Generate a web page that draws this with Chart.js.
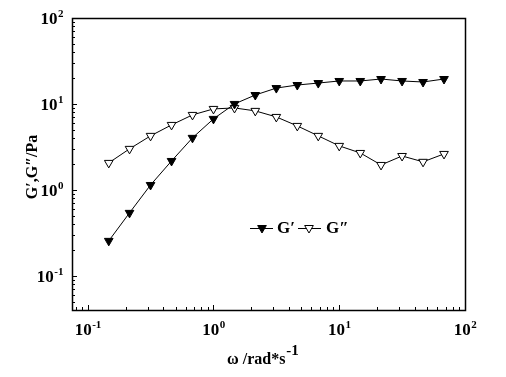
<!DOCTYPE html>
<html>
<head>
<meta charset="utf-8">
<script src="https://cdn.jsdelivr.net/npm/chart.js@4/dist/chart.umd.min.js"></script>
<style>
  html, body { margin: 0; padding: 0; background: #fff; }
  #wrap { width: 506px; height: 377px; }
</style>
</head>
<body>
<div id="wrap"><canvas id="chart" width="506" height="377"></canvas></div>
<script>
/* frequency sweep data */
var omega   = [0.147, 0.215, 0.316, 0.464, 0.681, 1.0, 1.47, 2.15, 3.16, 4.64, 6.81, 10.0, 14.7, 21.5, 31.6, 46.4, 68.1];
var gPrime  = [0.255, 0.54, 1.14, 2.17, 4.03, 6.7, 10.0, 12.7, 15.3, 16.6, 17.5, 18.5, 18.5, 19.5, 18.5, 18.0, 19.5];
var gDouble = [2.06, 3.0, 4.25, 5.7, 7.45, 8.75, 8.98, 8.3, 7.06, 5.55, 4.25, 3.25, 2.69, 1.95, 2.48, 2.12, 2.62];

var xDecades = [-1, 0, 1, 2];
var yDecades = [-1, 0, 1, 2];
var seriesNames = ['G\u2032', 'G\u2033'];

var SERIF = '"Liberation Serif", "Times New Roman", serif';

function pts(ys) {
  return omega.map(function(w, i) { return { x: w, y: ys[i] }; });
}

/* 10 with superscript exponent; align: 'center' or 'right' */
function drawPow(ctx, exp, x, y, align) {
  var base = '10', sup = String(exp);
  ctx.font = 'bold 17px ' + SERIF;
  var wb = ctx.measureText(base).width;
  ctx.font = 'bold 11px ' + SERIF;
  var ws = ctx.measureText(sup).width;
  var x0 = align === 'right' ? x - wb - ws : x - (wb + ws) / 2;
  ctx.textAlign = 'left';
  ctx.textBaseline = 'alphabetic';
  ctx.font = 'bold 17px ' + SERIF;
  ctx.fillText(base, x0, y);
  ctx.font = 'bold 11px ' + SERIF;
  ctx.fillText(sup, x0 + wb + 0.5, y - 7);
}

function tri(ctx, x, y, r, filled) {
  ctx.beginPath();
  ctx.moveTo(x, y + r);
  ctx.lineTo(x - r * 0.866, y - r / 2);
  ctx.lineTo(x + r * 0.866, y - r / 2);
  ctx.closePath();
  ctx.fillStyle = filled ? '#000' : '#fff';
  ctx.fill();
  ctx.strokeStyle = '#000';
  ctx.lineWidth = 1;
  ctx.stroke();
}

function logTicks(scale) {
  var out = [];
  var lo = Math.floor(Math.log10(scale.min)), hi = Math.ceil(Math.log10(scale.max));
  for (var e = lo; e <= hi; e++) {
    for (var m = 1; m <= 9; m++) {
      var v = m * Math.pow(10, e);
      if (v >= scale.min * 0.999 && v <= scale.max * 1.001) out.push({ v: v, major: m === 1 });
    }
  }
  return out;
}

var decor = {
  id: 'decor',
  afterDraw: function(chart) {
    var ctx = chart.ctx, a = chart.chartArea;
    var xs = chart.scales.x, ys = chart.scales.y;
    ctx.save();

    // frame
    ctx.strokeStyle = '#000';
    ctx.lineWidth = 1.5;
    ctx.strokeRect(Math.round(a.left) + 0.5, Math.round(a.top) + 0.5,
                   Math.round(a.right - a.left), Math.round(a.bottom - a.top));

    // inward ticks, bottom and left
    ctx.lineWidth = 1;
    ctx.beginPath();
    logTicks(xs).forEach(function(t) {
      var px = Math.round(xs.getPixelForValue(t.v)) + 0.5;
      ctx.moveTo(px, a.bottom);
      ctx.lineTo(px, a.bottom - (t.major ? 5 : 3));
    });
    logTicks(ys).forEach(function(t) {
      var py = Math.round(ys.getPixelForValue(t.v)) + 0.5;
      ctx.moveTo(a.left, py);
      ctx.lineTo(a.left + (t.major ? 5 : 3), py);
    });
    ctx.stroke();

    // tick labels
    ctx.fillStyle = '#000';
    xDecades.forEach(function(e) {
      drawPow(ctx, e, xs.getPixelForValue(Math.pow(10, e)), a.bottom + 25, 'center');
    });
    yDecades.forEach(function(e) {
      drawPow(ctx, e, a.left - 9, ys.getPixelForValue(Math.pow(10, e)) + 6, 'right');
    });

    // x title
    ctx.font = 'bold 16px ' + SERIF;
    ctx.textAlign = 'left';
    var xt = '\u03c9 /rad*s';
    ctx.fillText(xt, 227, 364);
    var wx = ctx.measureText(xt).width;
    ctx.font = 'bold 15px ' + SERIF;
    ctx.fillText('-1', 227 + wx + 1, 355);

    // y title
    ctx.save();
    ctx.translate(37, 167);
    ctx.rotate(-Math.PI / 2);
    ctx.font = 'bold 16px ' + SERIF;
    ctx.textAlign = 'center';
    ctx.fillText('G\u2032,G\u2033/Pa', 0, 0);
    ctx.restore();

    // legend
    ctx.strokeStyle = '#000';
    ctx.lineWidth = 1;
    ctx.beginPath();
    ctx.moveTo(250, 228.5); ctx.lineTo(273, 228.5);
    ctx.moveTo(298, 228.5); ctx.lineTo(321, 228.5);
    ctx.stroke();
    tri(ctx, 262, 228, 5, true);
    tri(ctx, 309, 228, 5, false);
    ctx.fillStyle = '#000';
    ctx.font = 'bold 17px ' + SERIF;
    ctx.textAlign = 'left';
    ctx.fillText(seriesNames[0], 277, 233);
    ctx.fillText(seriesNames[1], 326, 233);

    ctx.restore();
  }
};

new Chart(document.getElementById('chart'), {
  type: 'scatter',
  data: {
    datasets: [
      {
        label: seriesNames[0],
        data: pts(gPrime),
        showLine: true,
        borderColor: '#000',
        borderWidth: 1,
        backgroundColor: '#000',
        pointStyle: 'triangle',
        pointRotation: 180,
        pointRadius: 5,
        pointBorderWidth: 1,
        pointBorderColor: '#000',
        pointBackgroundColor: '#000'
      },
      {
        label: seriesNames[1],
        data: pts(gDouble),
        showLine: true,
        borderColor: '#000',
        borderWidth: 1,
        backgroundColor: '#fff',
        pointStyle: 'triangle',
        pointRotation: 180,
        pointRadius: 5,
        pointBorderWidth: 1,
        pointBorderColor: '#000',
        pointBackgroundColor: '#fff'
      }
    ]
  },
  options: {
    responsive: false,
    animation: false,
    layout: { padding: { left: 72, right: 41, top: 18, bottom: 67 } },
    plugins: { legend: { display: false }, tooltip: { enabled: false } },
    scales: {
      x: { type: 'logarithmic', min: 0.075, max: 100, display: false },
      y: { type: 'logarithmic', min: 0.04, max: 100, display: false }
    }
  },
  plugins: [decor]
});
</script>
</body>
</html>
